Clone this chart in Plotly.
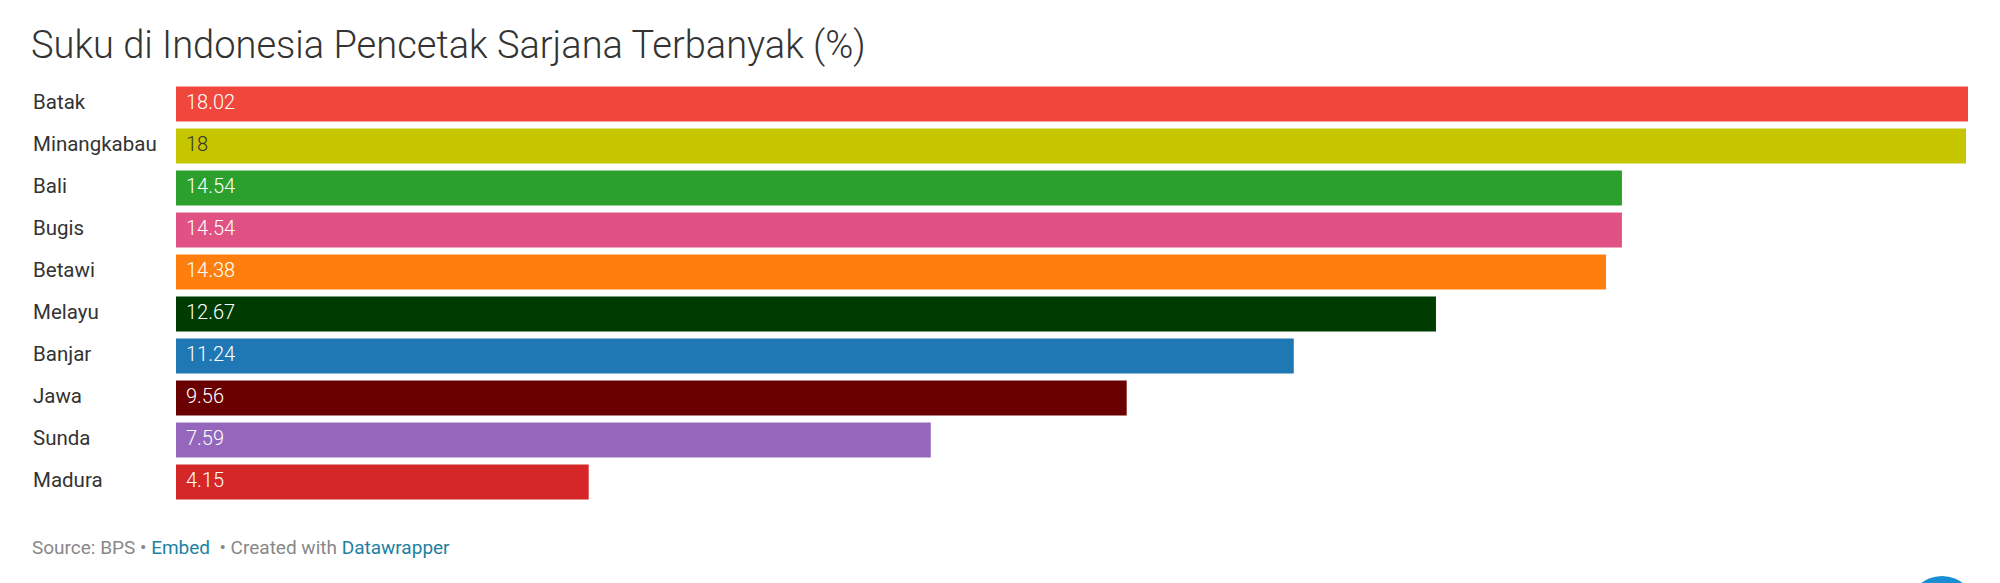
import plotly.graph_objects as go

categories = ["Batak", "Minangkabau", "Bali", "Bugis", "Betawi", "Melayu", "Banjar", "Jawa", "Sunda", "Madura"]
values = [18.02, 18, 14.54, 14.54, 14.38, 12.67, 11.24, 9.56, 7.59, 4.15]
value_labels = ["18.02", "18", "14.54", "14.54", "14.38", "12.67", "11.24", "9.56", "7.59", "4.15"]
colors = ["#f0473d", "#c5c500", "#2ca02c", "#e05283", "#ff7f0e", "#003c00", "#1f77b4", "#6b0000", "#9467bd", "#d62728"]
label_colors = ["#ffffff", "#333333", "#ffffff", "#ffffff", "#ffffff", "#ffffff", "#ffffff", "#ffffff", "#ffffff", "#ffffff"]

W, H = 2000, 583
L, R, T, B = 176, 32, 83, 80
PW, PH = W - L - R, H - T - B

fig = go.Figure()
fig.add_trace(go.Bar(
    x=values, y=categories, orientation="h",
    marker=dict(color=colors, line=dict(width=0)),
    hoverinfo="skip",
))

annotations = []
for c, v, t, lc in zip(categories, values, value_labels, label_colors):
    annotations.append(dict(
        x=0, y=c, xref="x", yref="y", text=t, showarrow=False,
        xanchor="left", yanchor="middle", xshift=8, yshift=2,
        font=dict(family="Roboto Light, Roboto", size=20, color=lc, weight=300),
    ))
    annotations.append(dict(
        x=0, y=c, xref="paper", yref="y", text=c, showarrow=False,
        xanchor="left", yanchor="middle", xshift=33 - L - 2, yshift=2,
        font=dict(family="Roboto", size=20.5, color="#333333"),
    ))

annotations.append(dict(
    x=0, y=(H - B - 547) / PH, xref="paper", yref="paper", xshift=32 - L - 2,
    xanchor="left", yanchor="middle", showarrow=False,
    text="Source: BPS • <span style='color:#1d81a2'>Embed</span>  • Created with <span style='color:#1d81a2'>Datawrapper</span>",
    font=dict(family="Roboto", size=19, color="#888888"),
))

cx, cy, r = 1942, 610, 34
shapes = [dict(
    type="circle", xref="paper", yref="paper",
    x0=(cx - r - L) / PW, x1=(cx + r - L) / PW,
    y0=(H - B - (cy + r)) / PH, y1=(H - B - (cy - r)) / PH,
    fillcolor="#1a8ed3", line=dict(width=0),
)]

fig.update_layout(
    width=W, height=H,
    margin=dict(l=L, r=R, t=T, b=B),
    paper_bgcolor="white", plot_bgcolor="white",
    showlegend=False,
    bargap=7 / 42,
    title=dict(
        text="Suku di Indonesia Pencetak Sarjana Terbanyak (%)",
        x=31 / W, xanchor="left", y=1 - 45 / H, yanchor="middle",
        xref="container", yref="container",
        font=dict(family="Roboto Light, Roboto", size=38, color="#333333", weight=300),
    ),
    xaxis=dict(range=[0, 18.02], visible=False, fixedrange=True),
    yaxis=dict(autorange="reversed", visible=False, fixedrange=True),
    annotations=annotations,
    shapes=shapes,
)

fig.write_html("out.html")
